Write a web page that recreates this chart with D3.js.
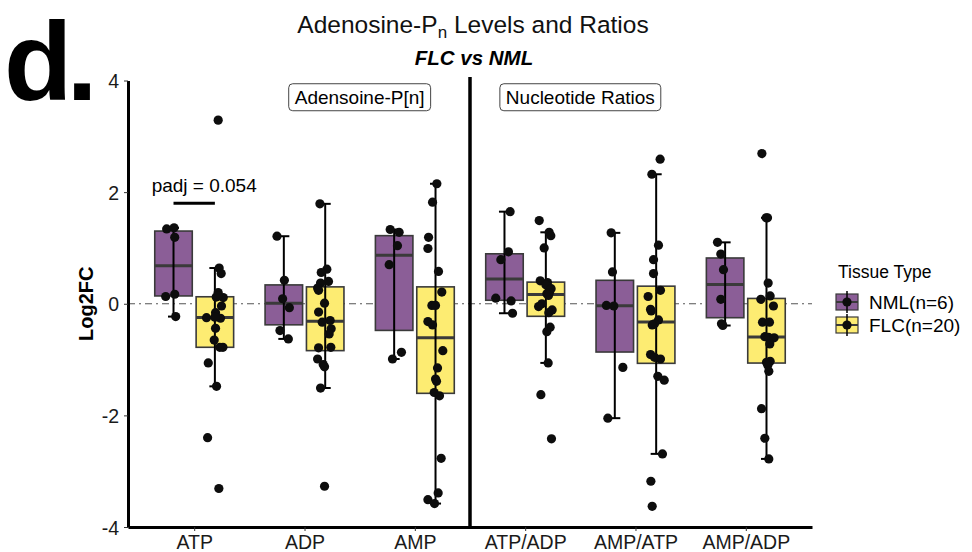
<!DOCTYPE html>
<html>
<head>
<meta charset="utf-8">
<script src="https://cdn.jsdelivr.net/npm/d3@7"></script>
<style>
  body { margin: 0; background: #fff; }
  text { font-family: "Liberation Sans", Arial, sans-serif; }
</style>
</head>
<body>
<svg id="chart" width="972" height="552"></svg>
<script>
const categories = ["ATP", "ADP", "AMP", "ATP/ADP", "AMP/ATP", "AMP/ADP"];
const tissues = ["NML", "FLC"];
const tissueLabels = ["NML(n=6)", "FLC(n=20)"];
const yTicks = [-4, -2, 0, 2, 4];
const panelLabels = ["Adensoine-P[n]", "Nucleotide Ratios"];

// Log2FC per sample, one row per category
const nmlValues = [
    [1.34, 1.36, 1.19, 0.13, 0.17, -0.23],
    [1.21, 0.42, 0.09, -0.07, -0.48, -0.63],
    [1.33, 1.28, 1.04, 0.70, -0.87, -0.99],
    [1.65, 0.93, 0.79, 0.10, 0.05, -0.17],
    [1.27, 0.57, -0.03, -0.04, -1.14, -2.05],
    [1.10, 0.89, 0.61, 0.08, -0.36, -0.39]
];
// horizontal jitter (category units)
const nmlJitter = [
    [-0.062, 0.005, 0.011, -0.071, 0.011, 0.020],
    [-0.062, 0.005, -0.011, 0.050, -0.035, 0.041],
    [-0.036, 0.045, 0.030, -0.045, 0.066, -0.015],
    [0.051, 0.036, -0.033, -0.079, 0.060, 0.073],
    [-0.033, -0.021, -0.076, -0.009, 0.073, -0.063],
    [-0.069, -0.039, -0.015, -0.039, -0.033, -0.021]
];
const flcValues = [
    [3.29, 0.64, 0.54, 0.20, 0.12, 0.11, -0.04, -0.16, -0.25, -0.26, -0.44, -0.65, -0.78, -0.78, -1.06, -1.48, -2.40, -3.31, 0.14, -0.24],
    [1.79, 0.62, 0.56, 0.40, 0.37, 0.28, 0.24, 0.01, -0.15, -0.30, -0.33, -0.45, -0.54, -0.78, -0.79, -0.99, -1.09, -1.13, -1.51, -3.27],
    [2.15, 1.82, 1.19, 0.99, 0.58, 0.21, -0.03, -0.03, -0.32, -0.38, -0.84, -1.15, -1.35, -1.39, -1.59, -1.65, -2.77, -3.39, -3.51, -3.58],
    [1.49, 1.28, 1.22, 1.00, 0.41, 0.38, 0.34, 0.27, 0.20, 0.18, 0.15, 0.00, -0.05, -0.11, -0.16, -0.42, -0.50, -1.06, -1.63, -2.42],
    [2.59, 2.32, 1.05, 0.79, 0.54, 0.24, 0.13, -0.10, -0.13, -0.29, -0.36, -0.38, -0.91, -0.96, -0.99, -1.30, -1.37, -2.69, -3.18, -3.63],
    [2.69, 1.54, 1.54, 0.37, 0.14, 0.08, -0.04, -0.33, -0.33, -0.59, -0.60, -0.61, -0.72, -1.03, -1.05, -1.10, -1.21, -1.88, -2.41, -2.78]
];
const flcJitter = [
    [0.030, 0.039, 0.057, 0.030, 0.012, 0.076, 0.060, 0.006, -0.076, 0.051, 0.006, -0.006, 0.045, 0.073, -0.060, 0.015, -0.066, 0.036, 0.030, 0.000],
    [-0.048, 0.015, -0.036, 0.030, -0.042, -0.069, -0.060, -0.006, -0.060, 0.045, -0.027, 0.054, 0.036, 0.051, -0.060, -0.069, -0.018, -0.006, -0.042, -0.006],
    [0.012, -0.027, -0.063, -0.069, 0.027, 0.057, -0.033, 0.000, -0.069, -0.027, 0.066, 0.018, 0.000, 0.009, -0.012, 0.036, 0.051, 0.024, -0.069, -0.009],
    [-0.060, 0.030, 0.045, -0.015, -0.051, 0.015, 0.000, 0.048, 0.033, 0.009, 0.024, -0.036, -0.066, 0.057, 0.027, 0.039, 0.009, 0.021, -0.045, 0.051],
    [0.036, -0.039, 0.021, -0.024, -0.024, 0.039, -0.073, -0.051, -0.045, 0.021, -0.015, -0.036, -0.051, -0.015, 0.039, 0.015, 0.073, 0.057, -0.048, -0.036],
    [-0.042, -0.003, 0.009, 0.015, 0.033, -0.051, 0.063, -0.036, 0.027, -0.015, 0.018, 0.069, 0.030, 0.033, 0.000, 0.012, 0.021, -0.045, -0.015, 0.021]
];

// significance annotation
const padjCategory = "ATP";
const padjText = "padj = 0.054";
const padjBarValue = 1.8;
const padjTextValue = 2.0;
const panelLabelValue = 3.7;

class BoxVis {

    constructor(_config) {
        this.config = {
            parentElement: _config.parentElement,
            containerWidth: _config.containerWidth || 972,
            containerHeight: _config.containerHeight || 552,
        }
        this.config.margin = _config.margin || { top: 80.5, bottom: 25, right: 160, left: 128 }
        this.svg = d3.select(this.config.parentElement);
        this.colours = ["#8b5e97", "#fdec72"];
        this.initVis();
    }

    initVis() {
        let vis = this;
        let m = vis.config.margin;

        vis.x = d3.scalePoint()
            .domain(categories)
            .range([m.left, vis.config.containerWidth - m.right])
            .padding(0.6);
        vis.step = vis.x.step();
        vis.dodge = 0.1875 * vis.step;
        vis.boxWidth = 0.34 * vis.step;

        vis.y = d3.scaleLinear()
            .domain([-4, 4])
            .range([vis.config.containerHeight - m.bottom, m.top]);

        vis.colourScale = d3.scaleOrdinal().domain(tissues).range(vis.colours);

        // long format for the boxes
        vis.groups = [];
        categories.forEach((c, i) => {
            vis.groups.push({ cat: c, tissue: "NML", values: nmlValues[i], jitter: nmlJitter[i] });
            vis.groups.push({ cat: c, tissue: "FLC", values: flcValues[i], jitter: flcJitter[i] });
        });
        vis.groups.forEach(g => {
            g.stats = vis.boxStats(g.values);
            g.cx = vis.x(g.cat) + (g.tissue == "NML" ? -vis.dodge : vis.dodge);
        });

        vis.render();
    }

    boxStats(vals) {
        let s = vals.slice().sort(d3.ascending);
        let q1 = d3.quantileSorted(s, 0.25);
        let med = d3.quantileSorted(s, 0.5);
        let q3 = d3.quantileSorted(s, 0.75);
        let iqr = q3 - q1;
        let lo = d3.min(s.filter(v => v >= q1 - 1.5 * iqr));
        let hi = d3.max(s.filter(v => v <= q3 + 1.5 * iqr));
        return { q1, med, q3, lo, hi };
    }

    render() {
        let vis = this;
        let x = vis.x, y = vis.y;
        let [x0, x1] = x.range();

        // big panel letter + titles
        vis.svg.append("text")
            .attr("x", 4).attr("y", 100)
            .attr("font-size", 112).attr("font-weight", "bold")
            .attr("letter-spacing", -6)
            .text("d.");

        let title = vis.svg.append("text")
            .attr("x", 473).attr("y", 33)
            .attr("text-anchor", "middle")
            .attr("font-size", 24.5).attr("fill", "#111");
        title.append("tspan").text("Adenosine-P");
        title.append("tspan").attr("font-size", 17).attr("dy", 5).text("n");
        title.append("tspan").attr("dy", -5).text(" Levels and Ratios");

        vis.svg.append("text")
            .attr("x", 474).attr("y", 65)
            .attr("text-anchor", "middle")
            .attr("font-size", 20.5).attr("font-weight", "bold").attr("font-style", "italic")
            .text("FLC vs NML");

        // zero reference line
        vis.svg.append("line")
            .attr("x1", x0).attr("x2", x1)
            .attr("y1", y(0)).attr("y2", y(0))
            .attr("stroke", "#555").attr("stroke-width", 1.2)
            .attr("stroke-dasharray", "7,4,2,4");

        // boxes
        let g = vis.svg.append("g").attr("class", "boxes");
        g.selectAll("rect").data(vis.groups).join("rect")
            .attr("x", d => d.cx - vis.boxWidth / 2)
            .attr("width", vis.boxWidth)
            .attr("y", d => y(d.stats.q3))
            .attr("height", d => y(d.stats.q1) - y(d.stats.q3))
            .attr("fill", d => vis.colourScale(d.tissue))
            .attr("stroke", "#3a3a3a").attr("stroke-width", 1.6);

        g.selectAll("line.median").data(vis.groups).join("line")
            .attr("class", "median")
            .attr("x1", d => d.cx - vis.boxWidth / 2).attr("x2", d => d.cx + vis.boxWidth / 2)
            .attr("y1", d => y(d.stats.med)).attr("y2", d => y(d.stats.med))
            .attr("stroke", "#3a3a3a").attr("stroke-width", 3);

        // errorbar whiskers
        let capW = 0.1 * vis.step;
        let eb = vis.svg.append("g").attr("class", "whiskers")
            .attr("stroke", "#000").attr("stroke-width", 2);
        eb.selectAll("line.stem").data(vis.groups).join("line")
            .attr("class", "stem")
            .attr("x1", d => d.cx).attr("x2", d => d.cx)
            .attr("y1", d => y(d.stats.lo)).attr("y2", d => y(d.stats.hi));
        ["lo", "hi"].forEach(k => {
            eb.selectAll("line.cap-" + k).data(vis.groups).join("line")
                .attr("class", "cap-" + k)
                .attr("x1", d => d.cx - capW / 2).attr("x2", d => d.cx + capW / 2)
                .attr("y1", d => y(d.stats[k])).attr("y2", d => y(d.stats[k]));
        });

        // jittered points
        let pts = [];
        vis.groups.forEach(gr => gr.values.forEach((v, i) => pts.push({ x: gr.cx + gr.jitter[i] * vis.step, v })));
        vis.svg.append("g").selectAll("circle").data(pts).join("circle")
            .attr("cx", d => d.x).attr("cy", d => y(d.v))
            .attr("r", 4.6).attr("fill", "#0d0d0d");

        // panel divider between levels and ratios
        let divX = (x(categories[2]) + x(categories[3])) / 2;
        vis.svg.append("line")
            .attr("x1", divX).attr("x2", divX)
            .attr("y1", 77).attr("y2", y(-4))
            .attr("stroke", "#000").attr("stroke-width", 3.5);

        // section labels
        let labelX = [(x(categories[1]) + x(categories[2])) / 2, (x(categories[3]) + x(categories[4])) / 2];
        panelLabels.forEach((lab, i) => {
            let lg = vis.svg.append("g");
            let t = lg.append("text")
                .attr("x", labelX[i]).attr("y", y(panelLabelValue) + 7)
                .attr("text-anchor", "middle").attr("font-size", 19)
                .text(lab);
            let w = t.node().getComputedTextLength();
            lg.insert("rect", "text")
                .attr("x", labelX[i] - w / 2 - 6).attr("width", w + 12)
                .attr("y", y(panelLabelValue) - 13.5).attr("height", 27)
                .attr("rx", 4)
                .attr("fill", "#fff").attr("stroke", "#444").attr("stroke-width", 1);
        });

        // padj bracket
        let px = x(padjCategory);
        vis.svg.append("line")
            .attr("x1", px - vis.dodge).attr("x2", px + vis.dodge)
            .attr("y1", y(padjBarValue)).attr("y2", y(padjBarValue))
            .attr("stroke", "#000").attr("stroke-width", 3);
        vis.svg.append("text")
            .attr("x", px + 10).attr("y", y(padjTextValue))
            .attr("text-anchor", "middle").attr("font-size", 19)
            .text(padjText);

        // axes (plain hyphen minus like the original)
        let yAxis = vis.svg.append("g")
            .attr("transform", `translate(${x0},0)`)
            .call(d3.axisLeft(y).tickValues(yTicks).tickFormat(d => String(d))
                .tickSize(4).tickSizeOuter(0).tickPadding(5));
        let xAxis = vis.svg.append("g")
            .attr("transform", `translate(0,${y(-4)})`)
            .call(d3.axisBottom(x).tickSize(4).tickSizeOuter(0).tickPadding(4));
        [yAxis, xAxis].forEach(a => {
            a.select(".domain").attr("stroke", "#000").attr("stroke-width", 3);
            a.selectAll(".tick line").attr("stroke", "#333").attr("stroke-width", 1);
            a.selectAll(".tick text")
                .attr("font-family", "Liberation Sans, Arial, sans-serif")
                .attr("font-size", 19.5).attr("fill", "#1a1a1a");
        });
        yAxis.selectAll(".tick text").attr("dy", "0.36em");

        vis.svg.append("text")
            .attr("transform", `translate(93,${y(0)}) rotate(-90)`)
            .attr("text-anchor", "middle")
            .attr("font-size", 20).attr("font-weight", "bold")
            .text("Log2FC");

        // legend
        let leg = vis.svg.append("g").attr("transform", "translate(836,0)");
        leg.append("text").attr("x", 2).attr("y", 278).attr("font-size", 17.5).text("Tissue Type");
        tissues.forEach((t, i) => {
            let cy = 302 + i * 23;
            let k = leg.append("g");
            k.append("rect").attr("x", 0).attr("y", cy - 8).attr("width", 22).attr("height", 16)
                .attr("fill", vis.colourScale(t)).attr("stroke", "#3a3a3a").attr("stroke-width", 1.2);
            k.append("line").attr("x1", 11).attr("x2", 11).attr("y1", cy - 11).attr("y2", cy + 11)
                .attr("stroke", "#000").attr("stroke-width", 1.5);
            k.append("line").attr("x1", 0).attr("x2", 22).attr("y1", cy).attr("y2", cy)
                .attr("stroke", "#3a3a3a").attr("stroke-width", 2);
            k.append("circle").attr("cx", 11).attr("cy", cy).attr("r", 4.6).attr("fill", "#0d0d0d");
            leg.append("text").attr("x", 33).attr("y", cy + 7).attr("font-size", 19).text(tissueLabels[i]);
        });
    }
}

new BoxVis({ parentElement: "#chart" });
</script>
</body>
</html>
